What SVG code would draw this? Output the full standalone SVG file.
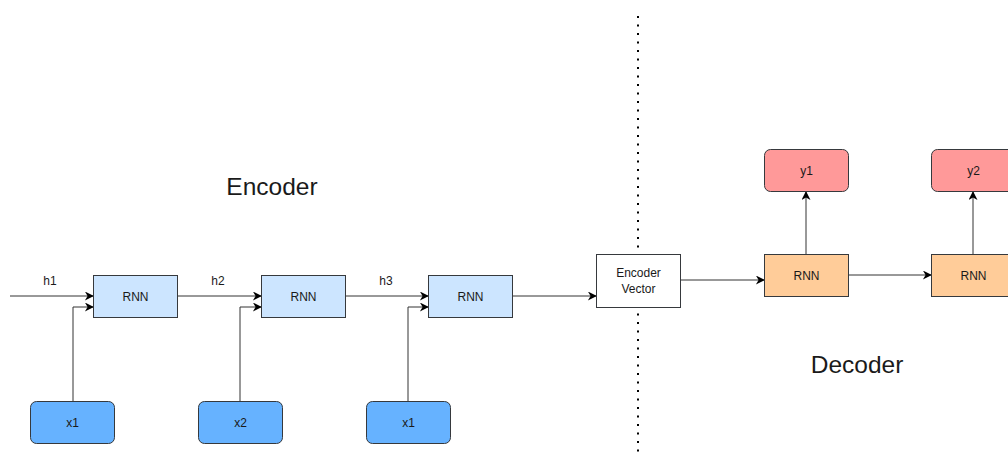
<svg xmlns="http://www.w3.org/2000/svg" width="1008" height="453" viewBox="0 0 1008 453">
  <style>
    text { font-family: "Liberation Sans", Arial, sans-serif; fill: #1a1a1a; text-anchor: middle; }
    .lbl { font-size: 12px; }
    .big { font-size: 24.5px; }
    .rnn { fill: #cce5ff; stroke: #36393d; stroke-width: 1; }
    .inp { fill: #66b2ff; stroke: #36393d; stroke-width: 1; }
    .dec { fill: #ffcc99; stroke: #36393d; stroke-width: 1; }
    .out { fill: #ff9999; stroke: #36393d; stroke-width: 1; }
    .vec { fill: #ffffff; stroke: #36393d; stroke-width: 1; }
    .edge { fill: none; stroke: #333333; stroke-width: 1; marker-end: url(#arrow); }
  </style>
  <defs>
    <marker id="arrow" viewBox="0 0 10 10" refX="9" refY="5" markerWidth="10" markerHeight="9" orient="auto" markerUnits="userSpaceOnUse">
      <path d="M0,0 L10,5 L0,10 L3,5 Z" fill="#000000"/>
    </marker>
  </defs>
  <rect width="1008" height="453" fill="#ffffff"/>

  <!-- divider between encoder and decoder -->
  <line x1="638" y1="16" x2="638" y2="453" stroke="#000000" stroke-width="2" stroke-dasharray="2 6.5"/>

  <text class="big" x="272" y="195">Encoder</text>
  <text class="big" x="857" y="373">Decoder</text>

  <g id="connectors">
    <path class="edge" d="M10,296 H93"/>
    <path class="edge" d="M73,401 V307 H93"/>
    <path class="edge" d="M177,296 H261"/>
    <path class="edge" d="M240,401 V307 H261"/>
    <path class="edge" d="M345,296 H428"/>
    <path class="edge" d="M408,401 V307 H428"/>
    <path class="edge" d="M512,296 H596"/>
    <path class="edge" d="M680,280 H764"/>
    <path class="edge" d="M806,254 V192"/>
    <path class="edge" d="M848,275 H931"/>
    <path class="edge" d="M973,254 V192"/>
    <text class="lbl" x="50" y="285">h1</text>
    <text class="lbl" x="218" y="285">h2</text>
    <text class="lbl" x="386" y="285">h3</text>
  </g>

  <g id="rnn1"><rect class="rnn" x="93.5" y="275.5" width="84" height="42"/><text class="lbl" x="135.5" y="301">RNN</text></g>
  <g id="rnn2"><rect class="rnn" x="261.5" y="275.5" width="84" height="42"/><text class="lbl" x="303.5" y="301">RNN</text></g>
  <g id="rnn3"><rect class="rnn" x="428.5" y="275.5" width="84" height="42"/><text class="lbl" x="470.5" y="301">RNN</text></g>

  <g id="in1"><rect class="inp" x="30.5" y="401.5" width="84" height="42" rx="6"/><text class="lbl" x="72.5" y="427">x1</text></g>
  <g id="in2"><rect class="inp" x="198.5" y="401.5" width="84" height="42" rx="6"/><text class="lbl" x="240.5" y="427">x2</text></g>
  <g id="in3"><rect class="inp" x="366.5" y="401.5" width="84" height="42" rx="6"/><text class="lbl" x="408.5" y="427">x1</text></g>

  <g id="vector"><rect class="vec" x="596.5" y="254.5" width="84" height="53"/><text class="lbl" x="638.5" y="277">Encoder</text><text class="lbl" x="638.5" y="293">Vector</text></g>

  <g id="dec1"><rect class="dec" x="764.5" y="254.5" width="84" height="42"/><text class="lbl" x="806.5" y="280">RNN</text></g>
  <g id="dec2"><rect class="dec" x="931.5" y="254.5" width="84" height="42"/><text class="lbl" x="973.5" y="280">RNN</text></g>

  <g id="out1"><rect class="out" x="764.5" y="149.5" width="84" height="42" rx="6"/><text class="lbl" x="806.5" y="175">y1</text></g>
  <g id="out2"><rect class="out" x="931.5" y="149.5" width="84" height="42" rx="6"/><text class="lbl" x="973.5" y="175">y2</text></g>
</svg>
